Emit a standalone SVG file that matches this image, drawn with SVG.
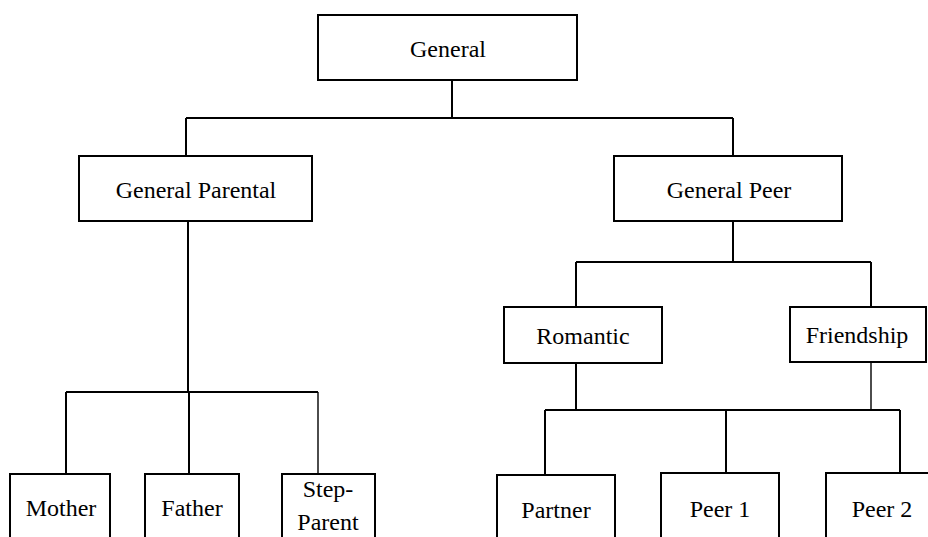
<svg xmlns="http://www.w3.org/2000/svg" width="928" height="537" viewBox="0 0 928 537">
<style>
.box{fill:#fff;stroke:#000;stroke-width:2}
.ln{fill:none;stroke:#000;stroke-width:2}
.thin{fill:none;stroke:#000;stroke-width:1.4}
.t{font-family:'Liberation Serif','Times New Roman','DejaVu Serif',serif;font-size:24px;fill:#000;text-anchor:middle}
</style>
<rect width="928" height="537" fill="#fff"/>
<g id="connectors">
<path class="ln" d="M452 80V118M186 118H733M186 118V156M733 118V156"/>
<path class="ln" d="M188 221V392M66 392H318M66 392V474M189 392V474"/>
<path class="thin" d="M318 392V474"/>
<path class="ln" d="M733 221V262M576 262H871M576 262V307M871 262V307"/>
<path class="ln" d="M576 363V410M545 410H900M545 410V475M726 410V473M900 410V473"/>
<path class="thin" d="M871 363V410"/>
</g>
<g id="general"><rect class="box" x="318" y="15" width="259" height="65"/><text class="t" x="448" y="57">General</text></g>
<g id="general-parental"><rect class="box" x="79" y="156" width="233" height="65"/><text class="t" x="196" y="198">General Parental</text></g>
<g id="general-peer"><rect class="box" x="614" y="156" width="228" height="65"/><text class="t" x="729" y="198">General Peer</text></g>
<g id="romantic"><rect class="box" x="504" y="307" width="158" height="56"/><text class="t" x="583" y="344">Romantic</text></g>
<g id="friendship"><rect class="box" x="790" y="307" width="136" height="55"/><text class="t" x="857" y="343">Friendship</text></g>
<g id="mother"><rect class="box" x="10" y="474" width="100" height="80"/><text class="t" x="61" y="516">Mother</text></g>
<g id="father"><rect class="box" x="145" y="474" width="94" height="80"/><text class="t" x="192" y="516">Father</text></g>
<g id="step-parent"><rect class="box" x="282" y="474" width="93" height="80"/><text class="t" x="328" y="497">Step-</text><text class="t" x="328" y="530">Parent</text></g>
<g id="partner"><rect class="box" x="497" y="475" width="118" height="80"/><text class="t" x="556" y="518">Partner</text></g>
<g id="peer1"><rect class="box" x="661" y="473" width="118" height="80"/><text class="t" x="720" y="517">Peer 1</text></g>
<g id="peer2"><rect class="box" x="826" y="473" width="118" height="80"/><text class="t" x="882" y="517">Peer 2</text></g>
</svg>
